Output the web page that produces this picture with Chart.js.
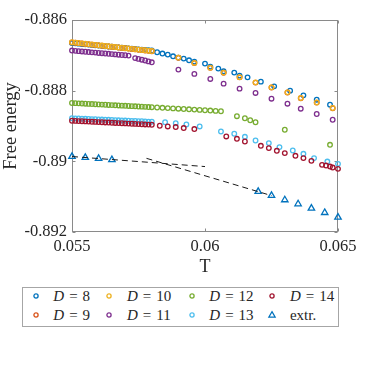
<!DOCTYPE html>
<html>
<head>
<meta charset="utf-8">
<script src="https://cdn.jsdelivr.net/npm/chart.js@4.4.0/dist/chart.umd.min.js"></script>
<style>
    html, body { margin: 0; padding: 0; background: #fff; }
    #wrap { position: relative; width: 374px; height: 374px; }
    #grafico { position: absolute; left: 0; top: 0; }
    #leyenda { position: absolute; left: 22px; top: 287px; width: 315px; height: 38px; border: 1px solid #a6a6a6; background: #fff;
               font-family: "Liberation Serif", serif; font-size: 15px; color: #262626; }
    .txt { position: absolute; white-space: nowrap; line-height: 18px; }
    .mk { position: absolute; }
    .eq { margin: 0 5px; }
</style>
</head>
<body>
<div id="wrap">
    <canvas id="grafico" width="374" height="374"></canvas>
    <div id="leyenda"></div>
</div>
<script>
// ejes
const xTicks = [0.055, 0.06, 0.065];
const xTickLabels = ['0.055', '0.06', '0.065'];
const yTicks = [-0.892, -0.89, -0.888, -0.886];
const yTickLabels = ['-0.892', '-0.89', '-0.888', '-0.886'];

// tramo denso comun (T)
const tDensa = [0.055, 0.055125, 0.05525, 0.055375, 0.0555, 0.055625, 0.05575, 0.055875, 0.056, 0.056125, 0.05625, 0.056375,
    0.0565, 0.056625, 0.05675, 0.056875, 0.057, 0.057125, 0.05725, 0.057375, 0.0575, 0.057625, 0.05775, 0.057875, 0.058];

// D = 8
const t8 = [...tDensa, 0.0582, 0.0584, 0.0586, 0.0588, 0.059, 0.0592, 0.0594, 0.0596, 0.06, 0.0602, 0.0605, 0.0607,
    0.0611, 0.0613, 0.0616, 0.0621, 0.0626, 0.0632, 0.0637, 0.0642, 0.0647];
const f8 = [-0.886652, -0.886660, -0.886669, -0.886678, -0.886687, -0.886696, -0.886705, -0.886714, -0.886723, -0.886732,
    -0.886741, -0.886750, -0.886758, -0.886767, -0.886776, -0.886785, -0.886794, -0.886803, -0.886812, -0.886821,
    -0.886830, -0.886839, -0.886848, -0.886856, -0.886865,
    -0.886913, -0.886950, -0.886979, -0.887027, -0.887064, -0.887092, -0.887140, -0.887177, -0.887234, -0.887319,
    -0.887376, -0.887452, -0.887489, -0.887574, -0.887623, -0.887745, -0.887878, -0.888000, -0.888133, -0.888255, -0.888397];

// D = 9
const t9 = [...tDensa, 0.059, 0.0596, 0.0602, 0.0607, 0.0613, 0.0619, 0.0625, 0.0631, 0.0636, 0.0642, 0.0648];
const f9 = [-0.886634, -0.886644, -0.886655, -0.886665, -0.886676, -0.886686, -0.886696, -0.886707, -0.886717, -0.886727,
    -0.886738, -0.886748, -0.886759, -0.886769, -0.886779, -0.886790, -0.886800, -0.886810, -0.886821, -0.886831,
    -0.886842, -0.886852, -0.886862, -0.886873, -0.886883,
    -0.887070, -0.887220, -0.887354, -0.887495, -0.887623, -0.887771, -0.887912, -0.888054, -0.888213, -0.888338, -0.888497];

// D = 10
const t10 = [...tDensa, 0.059, 0.0596, 0.0602, 0.0607, 0.0613, 0.0619, 0.0625, 0.0631, 0.0636, 0.0642, 0.0648];
const f10 = [-0.886630, -0.886640, -0.886651, -0.886661, -0.886672, -0.886682, -0.886692, -0.886703, -0.886713, -0.886723,
    -0.886734, -0.886744, -0.886755, -0.886765, -0.886775, -0.886786, -0.886796, -0.886806, -0.886817, -0.886827,
    -0.886838, -0.886848, -0.886858, -0.886869, -0.886879,
    -0.887064, -0.887214, -0.887348, -0.887489, -0.887617, -0.887765, -0.887906, -0.888048, -0.888207, -0.888332, -0.888491];

// D = 11
const t11 = [...tDensa, 0.059, 0.0596, 0.0602, 0.0607, 0.0613, 0.0619, 0.0625, 0.0631, 0.0636, 0.0642, 0.0648];
const f11 = [-0.886865, -0.886873, -0.886882, -0.886890, -0.886898, -0.886907, -0.886915, -0.886923, -0.886932, -0.886940,
    -0.886948, -0.886957, -0.886965, -0.886973, -0.886982, -0.886990, -0.886998, -0.887007, null, -0.887078,
    -0.887101, -0.887123, -0.887146, -0.887172, -0.887197,
    -0.887404, -0.887526, -0.887668, -0.887801, -0.887943, -0.888065, -0.888227, -0.888369, -0.888511, -0.888661, -0.888823];

// D = 12
const t12 = [...tDensa, 0.0582, 0.0584, 0.0586, 0.0588, 0.059, 0.0592, 0.0594, 0.0596, 0.0598, 0.06, 0.0602, 0.0604, 0.0606,
    0.0612, 0.0615, 0.0617, 0.0619, 0.063, 0.0647];
const f12 = [-0.888349, -0.888354, -0.888359, -0.888364, -0.888369, -0.888374, -0.888379, -0.888384, -0.888389, -0.888394,
    -0.888399, -0.888404, -0.888409, -0.888414, -0.888419, -0.888424, -0.888428, -0.888433, -0.888438, -0.888443,
    -0.888448, -0.888453, -0.888458, -0.888463, -0.888468,
    -0.888477, -0.888485, -0.888493, -0.888502, -0.888510, -0.888519, -0.888527, -0.888536, -0.888545, -0.888554,
    -0.888563, -0.888572, -0.888582,
    -0.888723, -0.888780, -0.888837, -0.888894, -0.889106, -0.889532];

// D = 13
const t13 = [...tDensa, 0.0585, 0.0589, 0.0593, 0.0598, 0.0606, 0.0611, 0.0615, 0.0619, 0.0624, 0.0628, 0.0633, 0.0637,
    0.0641, 0.0646, 0.065];
const f13 = [-0.888780, -0.888784, -0.888788, -0.888792, -0.888796, -0.888801, -0.888805, -0.888809, -0.888813, -0.888817,
    -0.888821, -0.888825, -0.888829, -0.888833, -0.888838, -0.888842, -0.888846, -0.888850, -0.888854, -0.888858,
    -0.888862, -0.888866, -0.888870, -0.888875, -0.888879,
    -0.888894, -0.888922, -0.888956, -0.889013, -0.889155, -0.889220, -0.889305, -0.889410, -0.889484, -0.889597,
    -0.889694, -0.889787, -0.889909, -0.890006, -0.890071];

// D = 14
const t14 = [...tDensa, 0.0583, 0.0586, 0.0589, 0.0592, 0.0596, 0.0608, 0.0612, 0.0615, 0.0621, 0.0624, 0.0627, 0.063,
    0.0634, 0.0637, 0.064, 0.0644, 0.06455, 0.0647, 0.0648, 0.065];
const f14 = [-0.888851, -0.888856, -0.888861, -0.888865, -0.888870, -0.888875, -0.888880, -0.888884, -0.888889, -0.888894,
    -0.888899, -0.888903, -0.888908, -0.888913, -0.888918, -0.888922, -0.888927, -0.888932, -0.888937, -0.888941,
    -0.888946, -0.888951, -0.888956, -0.888960, -0.888965,
    -0.888993, -0.889013, -0.889030, -0.889058, -0.889087, -0.889296, -0.889362, -0.889438, -0.889560, -0.889626,
    -0.889702, -0.889767, -0.889844, -0.889909, -0.889986, -0.890099, -0.890119, -0.890148, -0.890176, -0.890213];

// extrapolacion
const tExtr = [0.055, 0.0555, 0.056, 0.0565, 0.062, 0.0625, 0.063, 0.0635, 0.064, 0.0645, 0.065];
const fExtr = [-0.889864, -0.889892, -0.889921, -0.889957, -0.890857, -0.890970, -0.891092, -0.891206, -0.891328, -0.891452, -0.891583];

// rectas discontinuas
const tRectaA = [0.055, 0.06];
const fRectaA = [-0.889864, -0.890148];
const tRectaB = [0.0578, 0.0625];
const fRectaB = [-0.889915, -0.890970];

const valoresD = [8, 9, 10, 11, 12, 13, 14];
const colores = ['#0072BD', '#D95319', '#EDB120', '#7E2F8E', '#77AC30', '#4DBEEE', '#A2142F'];
const series = [[t8, f8], [t9, f9], [t10, f10], [t11, f11], [t12, f12], [t13, f13], [t14, f14]];

const fuente = '"Liberation Serif", "Times New Roman", serif';
const colorTexto = '#262626';

const puntos = (ts, fs) => ts.map((t, i) => ({ x: t, y: fs[i] })).filter(p => p.y !== null);

let datasets = series.map(([ts, fs], i) => ({
    label: 'D = ' + valoresD[i],
    data: puntos(ts, fs),
    showLine: false,
    pointStyle: 'circle',
    pointRadius: 2.3,
    borderWidth: 1.3,
    borderColor: colores[i],
    backgroundColor: 'rgba(0,0,0,0)',
    order: 20 - i,
    clip: 6
}));

datasets = [...datasets,
    {
        label: 'extr.',
        data: puntos(tExtr, fExtr),
        showLine: false,
        pointStyle: 'triangle',
        pointRadius: 3.7,
        borderWidth: 1.3,
        borderColor: '#0072BD',
        backgroundColor: 'rgba(0,0,0,0)',
        order: 2,
        clip: 6
    },
    {
        label: 'rectaA',
        data: puntos(tRectaA, fRectaA),
        showLine: true,
        pointRadius: 0,
        borderWidth: 1,
        borderDash: [6, 4],
        borderColor: '#1a1a1a',
        order: 1
    },
    {
        label: 'rectaB',
        data: puntos(tRectaB, fRectaB),
        showLine: true,
        pointRadius: 0,
        borderWidth: 1,
        borderDash: [6, 4],
        borderColor: '#1a1a1a',
        order: 0
    }
];

// marco con marcas hacia dentro (estilo matlab)
const marco = {
    id: 'marco',
    beforeDatasetsDraw(chart) {
        const { ctx, chartArea, scales } = chart;
        const l = Math.round(chartArea.left) + 0.5;
        const r = Math.round(chartArea.right) - 0.5;
        const t = Math.round(chartArea.top) + 0.5;
        const b = Math.round(chartArea.bottom) - 0.5;
        ctx.save();
        ctx.strokeStyle = '#8a8a8a';
        ctx.lineWidth = 1;
        ctx.strokeRect(l, t, r - l, b - t);
        ctx.beginPath();
        xTicks.forEach(v => {
            const px = Math.round(scales.x.getPixelForValue(v)) + 0.5;
            ctx.moveTo(px, b); ctx.lineTo(px, b - 3);
            ctx.moveTo(px, t); ctx.lineTo(px, t + 3);
        });
        yTicks.forEach(v => {
            const py = Math.round(scales.y.getPixelForValue(v)) + 0.5;
            ctx.moveTo(l, py); ctx.lineTo(l + 3, py);
            ctx.moveTo(r, py); ctx.lineTo(r - 3, py);
        });
        ctx.stroke();
        ctx.restore();
    }
};

const ctx = document.getElementById('grafico');
window.chartEnergia = new Chart(ctx, {
    type: 'scatter',
    data: { datasets: datasets },
    options: {
        responsive: false,
        animation: false,
        events: [],
        layout: { padding: { top: 20, right: 36, bottom: 96, left: 0 } },
        plugins: {
            legend: { display: false },
            tooltip: { enabled: false }
        },
        scales: {
            x: {
                type: 'linear',
                min: 0.055,
                max: 0.065,
                afterBuildTicks: s => { s.ticks = xTicks.map(v => ({ value: v })); },
                afterFit: s => { s.height = 46; },
                grid: { display: false, drawTicks: false },
                border: { display: false },
                ticks: {
                    autoSkip: false,
                    maxRotation: 0,
                    padding: 5,
                    color: colorTexto,
                    font: { family: fuente, size: 16.5 },
                    callback: (v, i) => xTickLabels[i]
                },
                title: {
                    display: true,
                    text: 'T',
                    color: colorTexto,
                    padding: { top: 0, bottom: 0 },
                    font: { family: fuente, size: 18 }
                }
            },
            y: {
                type: 'linear',
                min: -0.892,
                max: -0.886,
                afterBuildTicks: s => { s.ticks = yTicks.map(v => ({ value: v })); },
                afterFit: s => { s.width = 72; },
                grid: { display: false, drawTicks: false },
                border: { display: false },
                ticks: {
                    autoSkip: false,
                    padding: 5,
                    color: colorTexto,
                    font: { family: fuente, size: 16.5 },
                    callback: (v, i) => yTickLabels[i]
                },
                title: {
                    display: true,
                    text: 'Free energy',
                    color: colorTexto,
                    padding: { top: 0, bottom: 0 },
                    font: { family: fuente, size: 18.5 }
                }
            }
        }
    },
    plugins: [marco]
});

// leyenda en 4 columnas x 2 filas
const leyenda = document.getElementById('leyenda');
const colX = [12.7, 86.3, 168.7, 249.3];
const filaY = [8, 27];
const textoDx = 17.6;
const items = valoresD.map((d, i) => ({ html: '<i>D</i><span class="eq">=</span>' + d, color: colores[i], tri: false }));
items.push({ html: 'extr.', color: '#0072BD', tri: true });

items.forEach((it, k) => {
    const col = Math.floor(k / 2);
    const fila = k % 2;
    const cx = colX[col];
    const cy = filaY[fila];
    const forma = it.tri
        ? `<polygon points="5,1.6 8.2,7.2 1.8,7.2" fill="none" stroke="${it.color}" stroke-width="1.2"/>`
        : `<circle cx="5" cy="5" r="2.1" fill="none" stroke="${it.color}" stroke-width="1.3"/>`;
    leyenda.insertAdjacentHTML('beforeend',
        `<svg class="mk" width="10" height="10" style="left:${cx - 5}px;top:${cy - 5}px">${forma}</svg>` +
        `<span class="txt" style="left:${cx + textoDx}px;top:${cy - 9}px">${it.html}</span>`);
});
</script>
</body>
</html>
